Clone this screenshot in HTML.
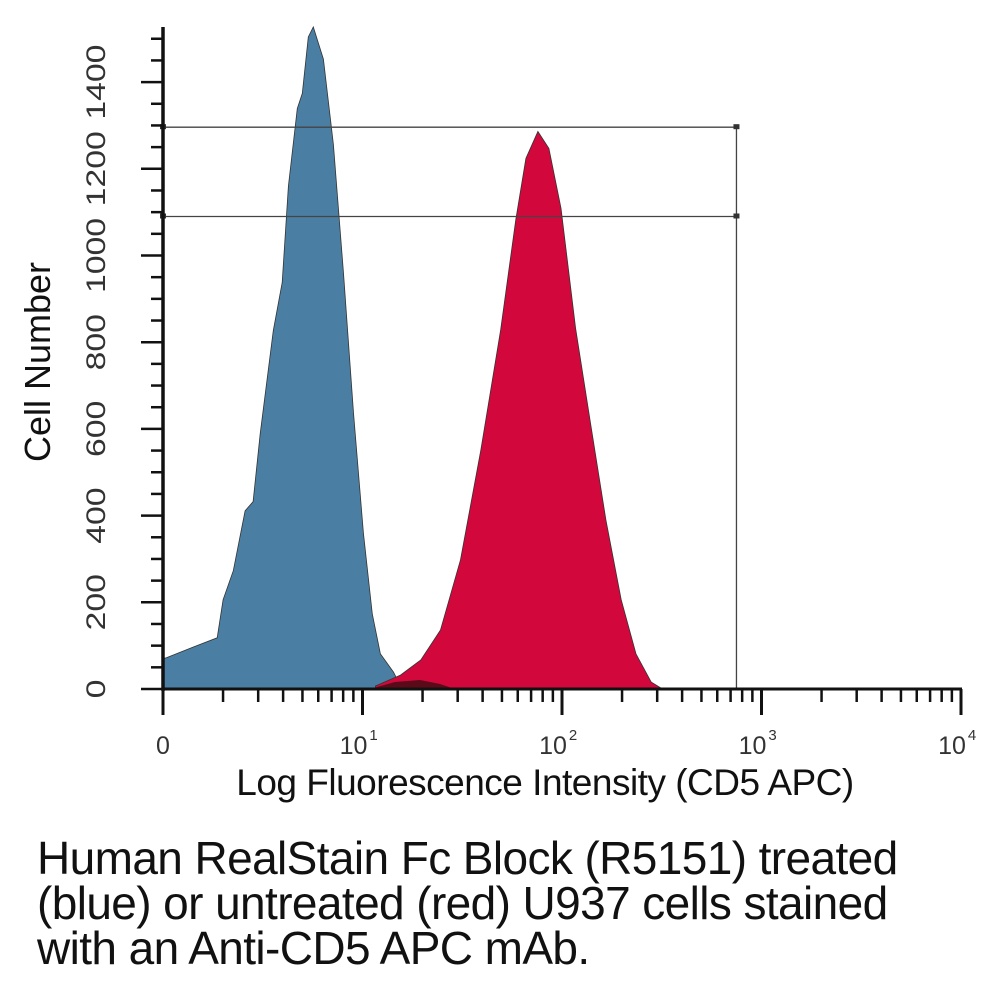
<!DOCTYPE html>
<html><head><meta charset="utf-8"><style>
html,body{margin:0;padding:0;background:#fff;}
body{width:1000px;height:1000px;overflow:hidden;position:relative;font-family:"Liberation Sans",sans-serif;}
.cap{position:absolute;left:37px;top:836px;font-size:46px;line-height:45px;color:#111;letter-spacing:-0.6px;white-space:nowrap;}
</style></head><body>
<svg id="chart" width="1000" height="820" style="position:absolute;left:0;top:0" xmlns="http://www.w3.org/2000/svg"></svg>
<div class="cap">Human RealStain Fc Block (R5151) treated<br>(blue) or untreated (red) U937 cells stained<br>with an Anti-CD5 APC mAb.</div>
<script>
const blueIntensity=[1.0,1.04,1.42,1.87,2.0,2.25,2.58,2.83,3.07,3.57,3.96,4.25,4.71,4.99,5.35,5.67,6.37,7.15,8.03,9.01,10.1,11.2,12.3,14.3,15.5];
const blueCount=[70,72,97,118,206,273,411,432,589,827,938,1160,1339,1374,1504,1527,1453,1256,959,637,360,173,81,39,7];
const redIntensity=[11.6,15.5,19.6,24.6,31.0,39.2,49.3,58.7,65.9,75.7,86.0,98.9,117,140,166,198,235,280,314];
const redCount=[7,32,67,136,298,552,829,1083,1224,1286,1247,1109,832,603,390,206,81,16,2];
const yTicks=[0,200,400,600,800,1000,1200,1400];
const xDecades=[1,10,100,1000,10000];
const xTickLabels=["0","10","10","10","10"];
const xTickExp=["","1","2","3","4"];
const gateUpper=1296, gateLower=1090, gateRight=749;

const NS="http://www.w3.org/2000/svg";
const svg=document.getElementById('chart');
const X0=163,DEC=199.5,Y0=689,PPU=0.4335;
const xs=v=>X0+Math.log10(v)*DEC;
const ys=c=>Y0-c*PPU;
function mk(t,a){const e=document.createElementNS(NS,t);for(const k in a)e.setAttribute(k,a[k]);svg.appendChild(e);return e;}

function area(xv,cv,fill,name){
  let d='M'+xs(xv[0])+','+Y0;
  for(let i=0;i<xv.length;i++)d+=' L'+xs(xv[i]).toFixed(1)+','+ys(cv[i]).toFixed(1);
  d+=' L'+xs(xv[xv.length-1]).toFixed(1)+','+Y0+' Z';
  const p=mk('path',{d:d,fill:fill,stroke:'#333','stroke-width':0.8});
  
  
}
area(blueIntensity,blueCount,'#4a7fa3','blue-histogram');
area(redIntensity,redCount,'#d2083c','red-histogram');
const ov=mk('path',{d:'M370,689 L395,682 L420,680 L440,684 L455,689 Z',fill:'#5a0a18'});



const g=mk('path',{d:`M${X0},${ys(gateUpper)} H${xs(gateRight)} M${X0},${ys(gateLower)} H${xs(gateRight)} M${xs(gateRight)},${ys(gateUpper)} V${Y0}`,stroke:'#444','stroke-width':1.3,fill:'none'});


[[X0,gateUpper],[X0,gateLower],[xs(gateRight),gateUpper],[xs(gateRight),gateLower]].forEach(p=>{
  const r=mk('rect',{x:p[0]-3,y:ys(p[1])-3,width:6,height:5,fill:'#333'});
  
  
});

const ya=mk('line',{x1:X0,y1:27,x2:X0,y2:Y0+2,stroke:'#111','stroke-width':3.5});


const xa=mk('line',{x1:X0,y1:Y0,x2:xs(10000)+1,y2:Y0,stroke:'#111','stroke-width':3});


for(let c=0;c<=1500;c+=50){
  const major=c%200===0;
  const t=mk('line',{x1:X0-(major?22:12),y1:ys(c),x2:X0,y2:ys(c),stroke:'#111','stroke-width':2.5});
  
  
}
yTicks.forEach(v=>{
  const t=mk('text',{x:0,y:0,transform:`translate(105,${ys(v)}) rotate(-90) scale(1.25,1)`,'text-anchor':'middle','font-size':27,fill:'#333'});
  t.textContent=v;
  
  
});
for(let d=0;d<4;d++){
  for(let m=2;m<=9;m++){
    const v=xDecades[d]*m;
    const t=mk('line',{x1:xs(v),y1:Y0,x2:xs(v),y2:Y0+13,stroke:'#111','stroke-width':2.5});
    
    
  }
}
xDecades.forEach((v,i)=>{
  const t=mk('line',{x1:xs(v),y1:Y0,x2:xs(v),y2:Y0+26,stroke:'#111','stroke-width':3});
  
  
  const lb=mk('text',{x:xs(v)-(i?9:0),y:754,'text-anchor':'middle','font-size':25,fill:'#333'});
  lb.textContent=xTickLabels[i];
  
  
  if(xTickExp[i]){
    const s=mk('text',{x:xs(v)+11,y:740,'text-anchor':'middle','font-size':15,fill:'#333'});
    s.textContent=xTickExp[i];
    
    
  }
});
const yt=mk('text',{x:0,y:0,transform:'translate(50,362) rotate(-90)','text-anchor':'middle','font-size':36,fill:'#111'});
yt.textContent='Cell Number';


const xt=mk('text',{x:545,y:795,'text-anchor':'middle','font-size':37,fill:'#111','letter-spacing':-0.5});
xt.textContent='Log Fluorescence Intensity (CD5 APC)';


</script>
</body></html>
